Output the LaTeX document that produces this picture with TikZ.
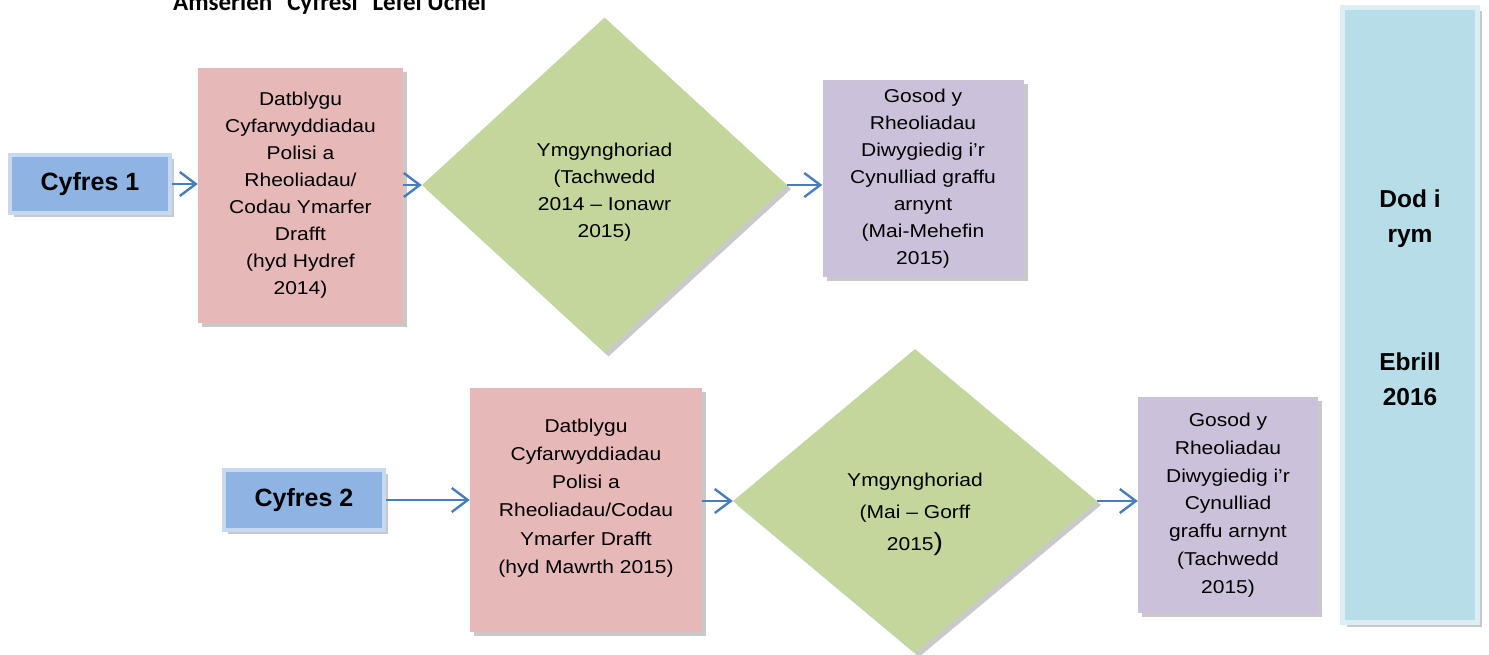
\documentclass[tikz,border=0pt]{standalone}
\usepackage{fontspec}
\setmainfont{Liberation Sans}
\newfontfamily\bodyfont{Liberation Sans}[FakeStretch=1.13]
\newfontfamily\titlefont{Carlito}
\usetikzlibrary{shapes.geometric,arrows.meta,shadows}
\definecolor{pinkfill}{HTML}{E6B9B8}
\definecolor{greenfill}{HTML}{C3D69B}
\definecolor{purplefill}{HTML}{CCC1DA}
\definecolor{cyfill}{HTML}{8EB4E3}
\definecolor{cyborder}{HTML}{C6D9F1}
\definecolor{tallfill}{HTML}{B7DDE8}
\definecolor{tallborder}{HTML}{DAEEF3}
\definecolor{arrowblue}{HTML}{4A7EBB}
\begin{document}
\begin{tikzpicture}[x=1pt,y=-1pt,
  shadowed/.style={drop shadow={shadow xshift=4pt,shadow yshift=-4pt,fill=black!70,opacity=0.3}},
  body/.style={font=\bodyfont\fontsize{18.6}{27}\selectfont, align=center, inner sep=0pt, text=black},
  pinkbox/.style={shadowed, fill=pinkfill, inner sep=0pt},
  purplebox/.style={shadowed, fill=purplefill, inner sep=0pt},
  greendia/.style={diamond, shadowed, fill=greenfill, inner sep=0pt},
  cyfbox/.style={shadowed, fill=cyfill, draw=cyborder, line width=4pt, inner sep=0pt,
     font=\bfseries\fontsize{25}{30}\selectfont},
  tallbox/.style={shadowed, fill=tallfill, draw=tallborder, line width=5pt, inner sep=0pt},
  talltext/.style={font=\bfseries\fontsize{24.5}{35}\selectfont, align=center, inner sep=0pt},
  flow/.style={draw=arrowblue, line width=2.4pt, -{Straight Barb[length=16pt,width=24pt]}},
]
\useasboundingbox (0,0) rectangle (1489,655);

% title (cut at the top edge, as in the reference)
\node[anchor=base west, inner sep=0pt, font=\titlefont\bfseries\fontsize{25}{30}\selectfont] (title)
  at (173,11) {Amserlen\hspace{0.6em}Cyfresi\hspace{0.6em}Lefel Uchel};

% row 1
\node[cyfbox, minimum width=160pt, minimum height=58pt] (c1) at (90,184) {Cyfres 1};
\node[pinkbox, body, minimum width=205pt, minimum height=255pt] (pk1) at (300.5,195.5)
  {Datblygu\\Cyfarwyddiadau\\Polisi a\\Rheoliadau/\\Codau Ymarfer\\Drafft\\(hyd Hydref\\2014)};
\node[greendia, minimum width=365pt, minimum height=335pt] (d1) at (604.5,185) {};
\node[body] (d1t) at (604.5,192) {Ymgynghoriad\\(Tachwedd\\2014 – Ionawr\\2015)};
\node[purplebox, body, minimum width=201pt, minimum height=197pt] (pu1) at (923,178.5)
  {Gosod y\\Rheoliadau\\Diwygiedig i’r\\Cynulliad graffu\\arnynt\\(Mai-Mehefin\\2015)};

% row 2
\node[cyfbox, minimum width=160pt, minimum height=60pt] (c2) at (304,500) {Cyfres 2};
\node[pinkbox, minimum width=232pt, minimum height=244pt] (pk2) at (586,510) {};
\node[body, font=\bodyfont\fontsize{18.6}{28.2}\selectfont] (pk2t) at (586,498)
  {Datblygu\\Cyfarwyddiadau\\Polisi a\\Rheoliadau/Codau\\Ymarfer Drafft\\(hyd Mawrth 2015)};
\node[greendia, minimum width=364pt, minimum height=304pt] (d2) at (915,501) {};
\node[body, font=\bodyfont\fontsize{18.6}{32}\selectfont] (d2t) at (915,514)
  {Ymgynghoriad\\(Mai – Gorff\\2015{\fontsize{25}{32}\selectfont)}};
\node[purplebox, body, minimum width=180pt, minimum height=216pt, font=\bodyfont\fontsize{18.6}{27.8}\selectfont] (pu2) at (1228,505)
  {Gosod y\\Rheoliadau\\Diwygiedig i’r\\Cynulliad\\graffu arnynt\\(Tachwedd\\2015)};

% tall box
\node[tallbox, minimum width=135pt, minimum height=615pt] (tall) at (1410,315) {};
\node[talltext] (dod) at (1410,219) {Dod i\\rym};
\node[talltext] (ebr) at (1410,379) {Ebrill\\2016};

% connectors
\draw[flow] (c1.east) -- (pk1.west |- c1.east);
\draw[flow] (pk1.east |- d1.west) -- (d1.west);
\draw[flow] (d1.east) -- (d1.east -| pu1.west);
\draw[flow] (c2.east) -- (c2.east -| pk2.west);
\draw[flow] (pk2.east |- d2.west) -- (d2.west);
\draw[flow] (d2.east) -- (d2.east -| pu2.west);
\end{tikzpicture}
\end{document}
